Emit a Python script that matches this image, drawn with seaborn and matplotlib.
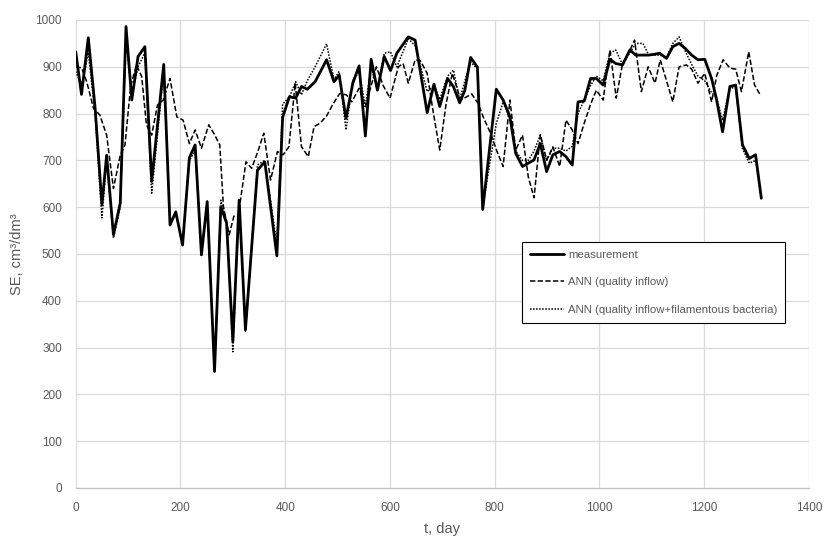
import numpy as np
import pandas as pd
import matplotlib
matplotlib.use("Agg")
import matplotlib.pyplot as plt
import seaborn as sns

# --- measured settled-sludge volume ---
meas_day = [0, 11, 24, 37, 50, 59, 72, 85, 96, 107, 119, 132, 145, 168, 180, 191,
            204, 217, 228, 240, 251, 265, 277, 288, 300, 312, 324, 347, 361, 384,
            395, 408, 420, 431, 442, 457, 479, 493, 503, 516, 529, 541, 553, 564,
            576, 589, 601, 613, 635, 648, 671, 684, 695, 710, 721, 733, 743, 754,
            767, 777, 803, 816, 829, 840, 853, 864, 875, 887, 899, 911, 924, 936,
            948, 959, 971, 983, 994, 1007, 1020, 1031, 1044, 1058, 1069, 1083,
            1094, 1106, 1115, 1128, 1140, 1152, 1163, 1176, 1188, 1201, 1214,
            1223, 1235, 1249, 1260, 1273, 1286, 1298, 1309]
meas_val = [932, 841, 962, 812, 605, 711, 541, 609, 986, 829, 922, 943, 655, 905,
            562, 590, 519, 706, 733, 498, 612, 249, 601, 566, 313, 615, 338, 679,
            697, 496, 792, 836, 833, 858, 852, 868, 915, 868, 882, 790, 865, 902,
            752, 916, 850, 922, 892, 929, 964, 957, 802, 863, 815, 875, 858, 823,
            850, 920, 899, 595, 852, 829, 793, 715, 687, 694, 701, 736, 676, 712,
            719, 708, 690, 825, 827, 875, 875, 861, 916, 907, 904, 936, 925, 925,
            925, 927, 929, 918, 943, 950, 940, 925, 915, 916, 875, 833, 761, 858,
            861, 733, 704, 712, 619]

# --- ANN model, quality inflow ---
ann1_day = [0, 11, 21, 34, 46, 59, 72, 85, 94, 105, 116, 126, 135, 145, 156, 167,
            180, 193, 205, 217, 228, 240, 254, 265, 275, 282, 293, 302, 310, 325,
            336, 348, 359, 372, 385, 396, 407, 419, 431, 444, 455, 467, 479, 491,
            504, 517, 527, 541, 553, 574, 587, 600, 616, 625, 635, 648, 658, 671,
            683, 695, 707, 719, 735, 745, 756, 768, 779, 792, 804, 816, 829, 840,
            853, 864, 875, 887, 899, 911, 924, 936, 948, 959, 971, 983, 994, 1007,
            1020, 1032, 1044, 1056, 1067, 1080, 1093, 1106, 1116, 1128, 1140,
            1152, 1166, 1176, 1188, 1201, 1214, 1224, 1236, 1249, 1260, 1271,
            1285, 1296, 1308]
ann1_val = [900, 898, 868, 811, 797, 754, 640, 711, 733, 860, 904, 879, 776, 754,
            818, 829, 875, 793, 786, 736, 765, 726, 776, 755, 733, 601, 541, 581,
            580, 697, 683, 720, 758, 658, 719, 712, 729, 865, 729, 708, 772, 780,
            795, 820, 843, 840, 825, 854, 815, 900, 860, 833, 900, 907, 865, 915,
            913, 886, 800, 722, 820, 886, 829, 835, 842, 822, 790, 758, 720, 687,
            829, 722, 754, 665, 620, 755, 700, 729, 687, 786, 765, 736, 780, 820,
            850, 829, 936, 833, 907, 930, 957, 847, 900, 865, 915, 870, 825, 900,
            904, 895, 865, 886, 825, 882, 915, 897, 895, 847, 932, 861, 838]

# --- ANN model, quality inflow + filamentous bacteria ---
ann2_day = meas_day
ann2_val = [890, 860, 930, 800, 577, 700, 534, 600, 960, 840, 900, 930, 630, 890,
            570, 585, 525, 700, 720, 505, 605, 255, 615, 570, 291, 610, 335, 690,
            700, 520, 820, 836, 868, 840, 870, 900, 949, 873, 890, 765, 870, 890,
            815, 900, 850, 929, 932, 900, 960, 945, 847, 860, 830, 880, 893, 830,
            870, 910, 895, 600, 779, 825, 790, 720, 700, 700, 720, 754, 700, 726,
            726, 720, 730, 800, 830, 860, 880, 870, 929, 936, 905, 930, 950, 950,
            925, 925, 925, 920, 950, 964, 935, 905, 880, 870, 845, 835, 786, 855,
            855, 725, 694, 700, 619]

labels = ["measurement", "ANN (quality inflow)",
          "ANN (quality inflow+filamentous bacteria)"]

sns.set_theme(style="white")
plt.rcParams["font.family"] = ["Liberation Sans", "DejaVu Sans"]

fig = plt.figure(figsize=(8.25, 5.36), dpi=100)
ax = fig.add_axes([0.0918, 0.0896, 0.8888, 0.8731])

grid_c = "#d9d9d9"
text_c = "#595959"

sns.lineplot(x=meas_day, y=meas_val, ax=ax, color="black", linewidth=2.0,
             estimator=None, sort=False, label=labels[0])
sns.lineplot(x=ann1_day, y=ann1_val, ax=ax, color="black", linewidth=1.1,
             linestyle=(0, (3.5, 1.5)), estimator=None, sort=False, label=labels[1])
sns.lineplot(x=ann2_day, y=ann2_val, ax=ax, color="black", linewidth=1.1,
             linestyle=(0, (1, 1)), estimator=None, sort=False, label=labels[2])

ax.set_xlim(0, 1400)
ax.set_ylim(0, 1000)
ax.set_xticks(np.arange(0, 1401, 200))
ax.set_yticks(np.arange(0, 1001, 100))
ax.grid(True, color=grid_c, linewidth=0.9)
ax.set_axisbelow(True)
for side in ["top", "right", "left"]:
    ax.spines[side].set_visible(False)
ax.spines["bottom"].set_color("#bfbfbf")
ax.spines["bottom"].set_linewidth(0.9)
ax.tick_params(axis="both", length=0, labelsize=8.5, colors=text_c, pad=10)

ax.set_xlabel("t, day", fontsize=10.5, color=text_c, labelpad=6)
ax.set_ylabel("SE, cm\u00b3/dm\u00b3", fontsize=10.5, color=text_c, labelpad=8)

leg = ax.legend(loc="upper left", bbox_to_anchor=(0.609, 0.526), fontsize=8.2,
                frameon=True, fancybox=False, edgecolor="black", framealpha=1,
                handlelength=3.0, handletextpad=0.3, labelspacing=1.55,
                borderpad=0.7, borderaxespad=0)
leg.get_frame().set_linewidth(0.8)
for t in leg.get_texts():
    t.set_color(text_c)

fig.savefig("out.png", dpi=100)
